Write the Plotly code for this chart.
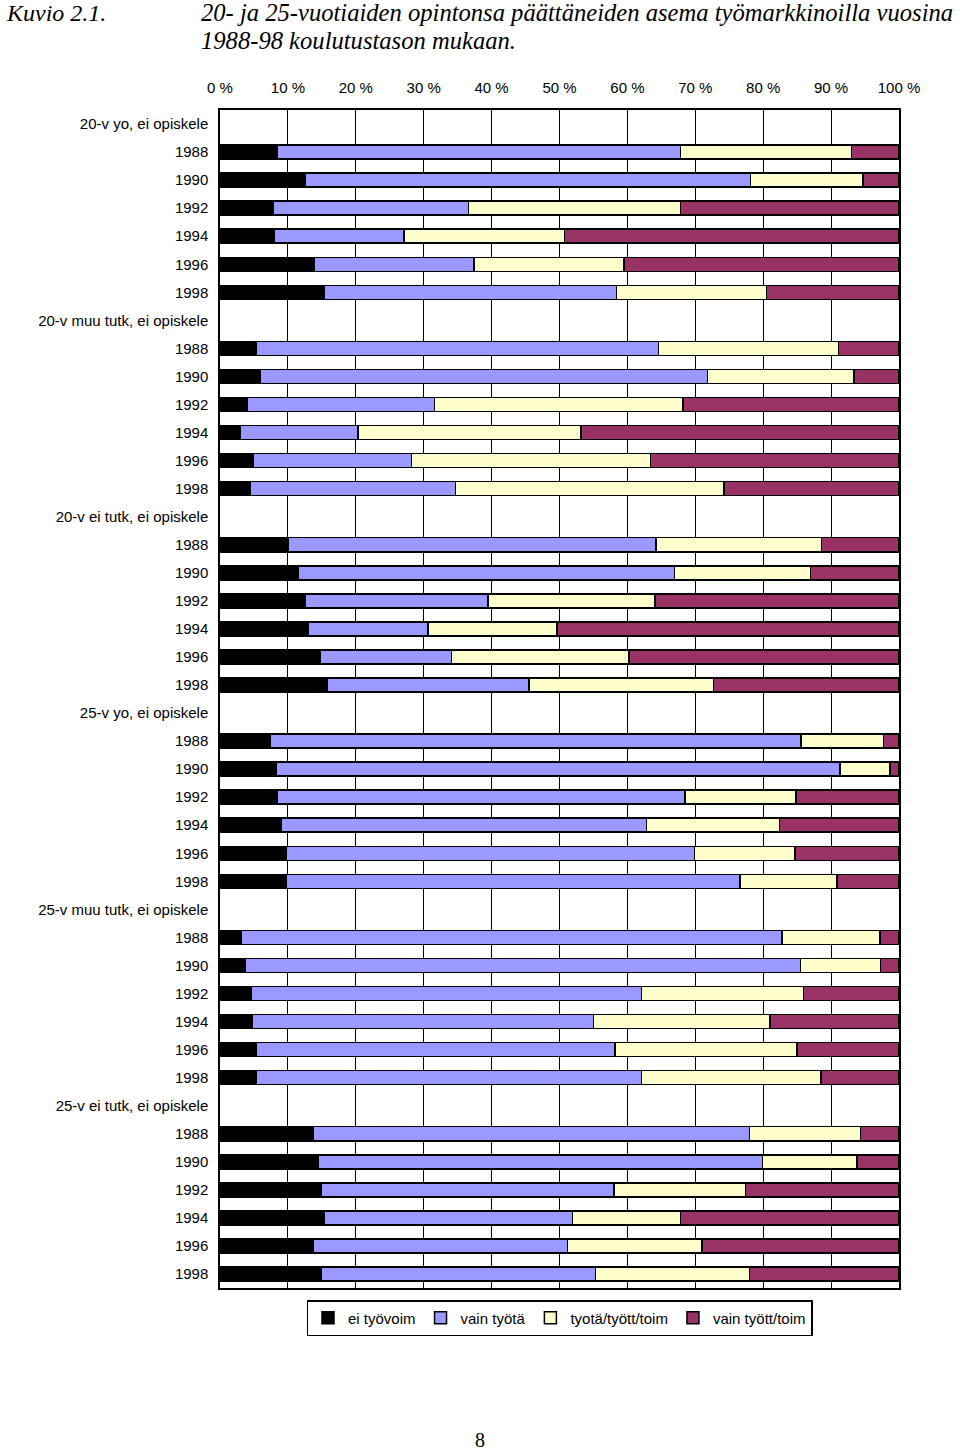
import plotly.graph_objects as go

groups = ["20-v yo, ei opiskele", "20-v muu tutk, ei opiskele", "20-v ei tutk, ei opiskele",
          "25-v yo, ei opiskele", "25-v muu tutk, ei opiskele", "25-v ei tutk, ei opiskele"]
years = ["1988", "1990", "1992", "1994", "1996", "1998"]
series_names = ["ei työvoim", "vain työtä", "tyotä/tyött/toim", "vain tyött/toim"]
series_colors = ["#000000", "#9999FF", "#FFFFCC", "#993366"]

ei_tyovoim = [8.5, 12.6, 7.8, 8.0, 13.9, 15.3,
              5.3, 5.9, 4.0, 3.0, 4.9, 4.5,
              10.1, 11.5, 12.6, 13.0, 14.7, 15.8,
              7.4, 8.3, 8.4, 9.0, 9.7, 9.7,
              3.1, 3.7, 4.6, 4.7, 5.3, 5.3,
              13.7, 14.5, 14.9, 15.3, 13.8, 14.9]
vain_tyota = [59.3, 65.5, 28.8, 19.1, 23.5, 43.1,
              59.3, 65.9, 27.6, 17.3, 23.3, 30.2,
              54.1, 55.4, 26.9, 17.6, 19.4, 29.7,
              78.2, 83.0, 60.1, 53.8, 60.2, 66.9,
              79.7, 81.8, 57.5, 50.3, 52.9, 56.8,
              64.3, 65.4, 43.1, 36.6, 37.4, 40.4]
tyota_tyott = [25.2, 16.6, 31.2, 23.6, 22.1, 22.1,
               26.5, 21.6, 36.6, 32.9, 35.2, 39.5,
               24.4, 20.1, 24.6, 19.0, 26.1, 27.2,
               12.1, 7.4, 16.3, 19.6, 14.8, 14.3,
               14.4, 11.8, 23.8, 26.0, 26.8, 26.4,
               16.3, 13.9, 19.4, 15.9, 19.8, 22.7]
vain_tyott = [7.0, 5.3, 32.2, 49.3, 40.5, 19.5,
              8.9, 6.6, 31.8, 46.8, 36.6, 25.8,
              11.4, 13.0, 35.9, 50.4, 39.8, 27.3,
              2.3, 1.3, 15.2, 17.6, 15.3, 9.1,
              2.8, 2.7, 14.1, 19.0, 15.0, 11.5,
              5.7, 6.2, 22.6, 32.2, 29.0, 22.0]

x_ticks = list(range(0, 101, 10))
x_ticktext = [f"{v} %" for v in x_ticks]

# row positions: group header rows (no bar) followed by year rows
tickvals, ticktext, bar_pos = [], [], []
row = 0
for g in groups:
    tickvals.append(row); ticktext.append(g); row += 1
    for y in years:
        tickvals.append(row); ticktext.append(y); bar_pos.append(row); row += 1
n_rows = row

fig = go.Figure()
for name, color, vals in zip(series_names, series_colors,
                             [ei_tyovoim, vain_tyota, tyota_tyott, vain_tyott]):
    fig.add_trace(go.Bar(
        x=vals, y=bar_pos, orientation="h", name=name,
        marker=dict(color=color, line=dict(color="#000000", width=1.5)),
        width=0.5,
    ))

W, H = 960, 1451
L, T, PW, PH = 220, 110, 679, 1178
font_sans = "Liberation Sans, Arial, sans-serif"
fig.update_layout(
    barmode="stack",
    width=W, height=H,
    margin=dict(l=L, r=W - L - PW, t=T, b=H - T - PH, autoexpand=False),
    paper_bgcolor="white", plot_bgcolor="white",
    font=dict(family=font_sans, size=15, color="#000000"),
    showlegend=True,
    legend=dict(orientation="h", x=0.5, xanchor="center", y=-12/PH, yanchor="top",
                traceorder="normal",
                bordercolor="#000000", borderwidth=1.5, font=dict(size=15),
                itemwidth=30, tracegroupgap=0),
    xaxis=dict(side="top", range=[0, 100], tickvals=x_ticks, ticktext=x_ticktext,
               showgrid=True, gridcolor="#000000", gridwidth=1.2,
               showline=True, linecolor="#000000", linewidth=1.5, mirror=True,
               ticks="", zeroline=False, tickfont=dict(size=15),
               ticklabelstandoff=9),
    yaxis=dict(range=[n_rows - 0.5, -0.5], tickvals=tickvals, ticktext=ticktext,
               showgrid=False, showline=True, linecolor="#000000", linewidth=1.5,
               mirror=True, ticks="", zeroline=False, tickfont=dict(size=15),
               ticklabelstandoff=7),
)

serif = "Liberation Serif, Times New Roman, serif"
def px_x(page_x):
    return (page_x - L) / PW
def px_y(page_y):
    return 1 - (page_y - T) / PH

fig.add_annotation(text="<i>Kuvio 2.1.</i>", xref="paper", yref="paper",
                   x=px_x(4), y=px_y(13), xanchor="left", yanchor="middle",
                   showarrow=False, font=dict(family=serif, size=24))
fig.add_annotation(text="<i>20- ja 25-vuotiaiden opintonsa päättäneiden asema työmarkkinoilla vuosina</i>",
                   xref="paper", yref="paper",
                   x=px_x(199), y=px_y(13), xanchor="left", yanchor="middle",
                   showarrow=False, font=dict(family=serif, size=24.6))
fig.add_annotation(text="<i>1988-98 koulutustason mukaan.</i>",
                   xref="paper", yref="paper",
                   x=px_x(199), y=px_y(40), xanchor="left", yanchor="middle",
                   showarrow=False, font=dict(family=serif, size=24.6))
fig.add_annotation(text="8", xref="paper", yref="paper",
                   x=px_x(480), y=px_y(1440), xanchor="center", yanchor="middle",
                   showarrow=False, font=dict(family=serif, size=20))

fig.write_html("out.html",
               config={"displayModeBar": False},
               post_script="document.body.style.margin='0';document.body.style.overflow='hidden';")
